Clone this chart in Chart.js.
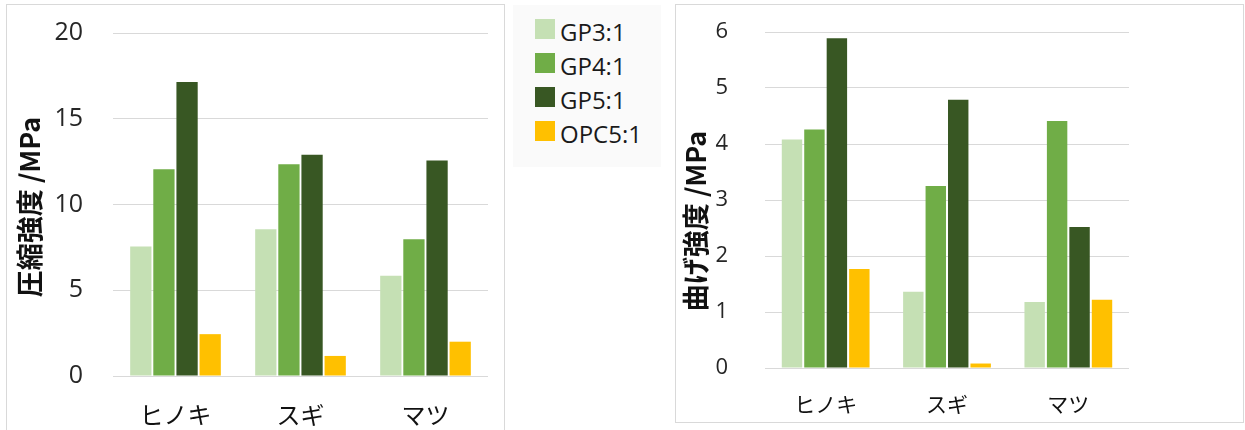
<!DOCTYPE html>
<html>
<head>
<meta charset="utf-8">
<script src="https://cdn.jsdelivr.net/npm/chart.js@4.4.1/dist/chart.umd.min.js"></script>
<style>
  html, body { margin: 0; padding: 0; background: #ffffff; }
  body { position: relative; width: 1245px; height: 430px; overflow: hidden; }
  .panel { position: absolute; border: 1px solid #d9d9d9; box-sizing: border-box; }
  #leftPanel { left: 6px; top: 4px; width: 499px; height: 450px; }
  #rightPanel { left: 675px; top: 4px; width: 569px; height: 419px; }
  #legendBox { position: absolute; left: 513px; top: 5px; width: 148px; height: 162px; background: #fafafa; }
  .legendRow { position: absolute; left: 22px; height: 24px; }
  .legendSwatch { position: absolute; left: 0; top: 0; width: 20px; height: 20px; }
  .legendText { position: absolute; left: 25px; top: -3px; font: 24px "Open Sans", sans-serif; color: #1a1a1a; white-space: nowrap; line-height: 32px; }
  #compWrap { position: absolute; left: 0; top: 0; width: 505px; height: 430px; }
  #bendWrap { position: absolute; left: 670px; top: 0; width: 575px; height: 430px; }
</style>
</head>
<body>
<div class="panel" id="leftPanel"></div>
<div class="panel" id="rightPanel"></div>
<div id="legendBox"></div>
<div id="compWrap"><canvas id="compChart" width="505" height="430"></canvas></div>
<div id="bendWrap"><canvas id="bendChart" width="575" height="430"></canvas></div>

<script>
// Wood species on the category axis
const categories = ['ヒノキ', 'スギ', 'マツ'];
// Mix ratios (series)
const seriesNames = ['GP3:1', 'GP4:1', 'GP5:1', 'OPC5:1'];
const seriesColors = ['#c5e0b4', '#70ad47', '#385723', '#ffc000'];

// Compressive strength, MPa
const compGP3 = [7.55, 8.55, 5.85];
const compGP4 = [12.05, 12.35, 7.98];
const compGP5 = [17.15, 12.9, 12.57];
const compOPC = [2.44, 1.17, 2.0];
const compTicks = [0, 5, 10, 15, 20];

// Bending strength, MPa
const bendGP3 = [4.08, 1.36, 1.18];
const bendGP4 = [4.26, 3.25, 4.41];
const bendGP5 = [5.89, 4.79, 2.52];
const bendOPC = [1.77, 0.08, 1.22];
const bendTicks = [0, 1, 2, 3, 4, 5, 6];

// HTML legend shared by both charts
const legendBox = document.getElementById('legendBox');
seriesNames.forEach((name, i) => {
  const row = document.createElement('div');
  row.className = 'legendRow';
  row.style.top = (14 + i * 34) + 'px';
  const sw = document.createElement('div');
  sw.className = 'legendSwatch';
  sw.style.background = seriesColors[i];
  const tx = document.createElement('div');
  tx.className = 'legendText';
  tx.textContent = name;
  row.appendChild(sw);
  row.appendChild(tx);
  legendBox.appendChild(row);
});

// Rotated y-axis title drawn on the canvas
const axisTitlePlugin = {
  id: 'axisTitle',
  afterDraw(chart, args, opts) {
    const ctx = chart.ctx;
    ctx.save();
    ctx.translate(opts.x, opts.y);
    ctx.rotate(-Math.PI / 2);
    ctx.font = opts.font;
    ctx.fillStyle = opts.color;
    ctx.textAlign = 'center';
    ctx.textBaseline = 'middle';
    ctx.fillText(opts.text, 0, 0);
    ctx.restore();
  }
};

function makeChart(canvasId, values, ticks, cfg) {
  const datasets = values.map((arr, i) => ({
    label: seriesNames[i],
    data: arr,
    backgroundColor: seriesColors[i],
    borderWidth: 0,
    categoryPercentage: cfg.catPct,
    barPercentage: cfg.barPct
  }));
  return new Chart(document.getElementById(canvasId), {
    type: 'bar',
    data: { labels: categories, datasets },
    options: {
      responsive: false,
      animation: false,
      devicePixelRatio: 1,
      layout: { padding: { left: 0, right: cfg.padRight, top: cfg.padTop, bottom: 0 } },
      plugins: {
        legend: { display: false },
        tooltip: { enabled: false },
        axisTitle: cfg.title
      },
      scales: {
        x: {
          grid: { display: false },
          border: { display: false },
          ticks: {
            color: '#111111',
            padding: cfg.xPad,
            font: { family: '"Noto Sans CJK JP", sans-serif', size: cfg.xFont }
          },
          afterFit: s => { s.height = cfg.xHeight; }
        },
        y: {
          min: ticks[0],
          max: ticks[ticks.length - 1],
          grid: {
            color: '#d9d9d9', lineWidth: 1,
            drawTicks: true, tickLength: cfg.yGap, tickColor: 'rgba(0,0,0,0)'
          },
          border: { display: false },
          ticks: {
            color: '#262626',
            padding: 4,
            font: { family: '"Open Sans", sans-serif', size: cfg.yFont }
          },
          afterBuildTicks: s => { s.ticks = ticks.map(v => ({ value: v })); },
          afterFit: s => { s.width = cfg.yWidth; }
        }
      }
    },
    plugins: [axisTitlePlugin]
  });
}

makeChart('compChart', [compGP3, compGP4, compGP5, compOPC], compTicks, {
  catPct: 0.74, barPct: 0.92,
  padRight: 17, padTop: 33,
  xHeight: 54, xPad: 16, xFont: 24,
  yWidth: 113, yGap: 26, yFont: 25,
  title: { text: '圧縮強度 /MPa', x: 30, y: 207, font: 'bold 27px "Noto Sans CJK JP", sans-serif', color: '#111111' }
});

makeChart('bendChart', [bendGP3, bendGP4, bendGP5, bendOPC], bendTicks, {
  catPct: 0.74, barPct: 0.91,
  padRight: 116, padTop: 32,
  xHeight: 62, xPad: 15, xFont: 21,
  yWidth: 95, yGap: 33, yFont: 22,
  title: { text: '曲げ強度 /MPa', x: 26, y: 221, font: 'bold 27px "Noto Sans CJK JP", sans-serif', color: '#111111' }
});
</script>
</body>
</html>
